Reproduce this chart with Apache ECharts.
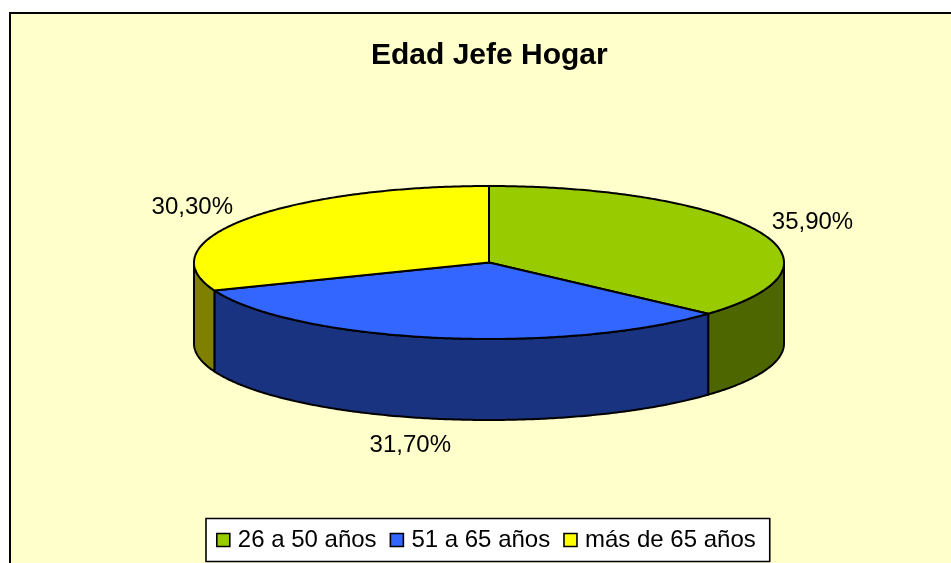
<!DOCTYPE html>
<html>
<head>
<meta charset="utf-8">
<style>html,body{margin:0;padding:0;background:#fff}#c{width:951px;height:563px}</style>
<script src="https://cdn.jsdelivr.net/npm/echarts@6/dist/echarts.min.js"></script>
</head>
<body>
<div id="c"></div>
<script>
const categories = ['26 a 50 años', '51 a 65 años', 'más de 65 años'];
const values = [35.9, 31.7, 30.3];
const valueLabels = ['35,90%', '31,70%', '30,30%'];
const topColors = ['#99CC00', '#3366FF', '#FFFF00'];
const wallColors = ['#4D6600', '#1A3380', '#808000'];
const labelOffsets = [[54, -9], [-26, 108], [-53, -12]];

const CX = 489, CY = 262.5, RX = 295, RY = 76.5, DEPTH = 81;
const FONT = '"Liberation Sans", Arial, sans-serif';
const total = values.reduce((a, b) => a + b, 0);
const pt = (t, dy) => [CX + RX * Math.sin(t), CY - RY * Math.cos(t) + (dy || 0)];
const arc = (a, b, dy) => {
  const n = Math.max(2, Math.ceil(Math.abs(b - a) / 0.01));
  const out = [];
  for (let i = 0; i <= n; i++) out.push(pt(a + (b - a) * i / n, dy));
  return out;
};
const startOf = i => values.slice(0, i).reduce((a, b) => a + b, 0) / total * 2 * Math.PI;

function renderSlice(i) {
  return function (params, api) {
    const a0 = startOf(i);
    const a1 = a0 + api.value(0) / total * 2 * Math.PI;
    const children = [];
    const lo = Math.max(a0, Math.PI / 2), hi = Math.min(a1, Math.PI * 1.5);
    const line = { stroke: '#000', lineWidth: 2, lineJoin: 'round' };
    if (hi > lo) {
      children.push({
        type: 'polygon',
        shape: { points: arc(lo, hi, 0).concat(arc(hi, lo, DEPTH)) },
        style: Object.assign({ fill: wallColors[i] }, line)
      });
    }
    children.push({
      type: 'polygon',
      shape: { points: [[CX, CY]].concat(arc(a0, a1, 0)) },
      style: Object.assign({ fill: topColors[i] }, line)
    });
    const mid = (a0 + a1) / 2, m = pt(mid, 0);
    children.push({
      type: 'text',
      style: {
        x: m[0] + labelOffsets[i][0], y: m[1] + labelOffsets[i][1],
        text: valueLabels[i], fill: '#000',
        font: '24px ' + FONT, align: 'center', verticalAlign: 'middle'
      }
    });
    return { type: 'group', children };
  };
}

const chart = echarts.init(document.getElementById('c'), null, { renderer: 'canvas' });
chart.setOption({
  animation: false,
  backgroundColor: '#fff',
  graphic: [{
    type: 'rect', z: -10, silent: true,
    shape: { x: 10, y: 13, width: 1000, height: 600 },
    style: { fill: '#FFFFCC', stroke: '#000', lineWidth: 2 }
  }],
  title: {
    text: 'Edad Jefe Hogar', left: 366, top: 36,
    textStyle: { fontFamily: FONT, fontWeight: 'bold', fontSize: 30, color: '#000' }
  },
  legend: {
    left: 206, top: 518.5,
    orient: 'horizontal',
    backgroundColor: '#fff', borderColor: '#000', borderWidth: 1.6, borderRadius: 0,
    padding: [9.5, 14, 9.5, 10],
    itemWidth: 13, itemHeight: 13, itemGap: 13,
    icon: 'rect',
    selectedMode: false,
    textStyle: { fontFamily: FONT, fontSize: 24, color: '#000', padding: [0, 0, 0, 3] },
    data: categories.map((n, i) => ({
      name: n,
      itemStyle: { color: topColors[i], borderColor: '#000', borderWidth: 1.6 }
    }))
  },
  series: categories.map((n, i) => ({
    type: 'custom',
    name: n,
    coordinateSystem: 'none',
    silent: true,
    z: 2 + i,
    itemStyle: { color: topColors[i] },
    renderItem: renderSlice(i),
    data: [[values[i]]]
  }))
});
</script>
</body>
</html>
